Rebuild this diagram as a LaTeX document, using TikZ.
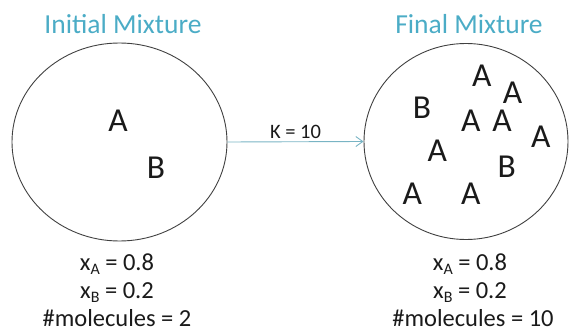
\documentclass[tikz,border=0pt]{standalone}
\usepackage{fontspec}
\setmainfont{Carlito}
\usetikzlibrary{shapes.geometric,arrows.meta}
\definecolor{teal1}{HTML}{4BACC6}
\definecolor{arrowc}{HTML}{79B4C4}
\definecolor{ink}{HTML}{1A1A1A}
\definecolor{rim}{HTML}{404040}
\tikzset{
  title/.style={anchor=base, inner sep=0pt, text=teal1, font=\fontsize{27.5}{30}\selectfont},
  letter/.style={inner sep=0pt, text=ink, font=\fontsize{33.5}{36}\selectfont},
  info/.style={anchor=base, inner sep=0pt, text=ink, font=\fontsize{24.5}{28}\selectfont},
  mix/.style={ellipse, draw=rim, line width=0.9pt, inner sep=0pt},
  react/.style={draw=arrowc, line width=0.9pt, -{Straight Barb[length=7pt,width=10pt]}},
}
\newcommand{\sbx}[1]{\raisebox{-4.5pt}{\fontsize{16}{16}\selectfont #1}}
\begin{document}
\begin{tikzpicture}[x=1pt,y=-1pt]
\useasboundingbox (0,0) rectangle (570,331);
% titles
\node[title] (t1) at (123,34) {Initial Mixture};
\node[title] (t2) at (469,34) {Final Mixture};
% ellipses
\node[mix, minimum width=215pt, minimum height=198pt] (L) at (119.5,142) {};
\node[mix, minimum width=204pt, minimum height=196pt] (R) at (466,141.5) {};
% reaction arrow
\draw[react] (L.east) -- node[above=3pt, inner sep=0pt, text=ink, font=\fontsize{20.5}{22}\selectfont] (k) {K = 10} (R.west);
% left letters
\node[letter] (la) at (118,121) {A};
\node[letter] (lb) at (156,167.5) {B};
% right letters
\node[letter] (r1) at (481.7,75.5) {A};
\node[letter] (r2) at (512.5,92.5) {A};
\node[letter] (r3) at (422,108) {B};
\node[letter] (r4) at (470.7,121) {A};
\node[letter] (r5) at (502,121) {A};
\node[letter] (r6) at (540.7,136.7) {A};
\node[letter] (r7) at (437.3,150.7) {A};
\node[letter] (r8) at (506.7,166.7) {B};
\node[letter] (r9) at (412.3,194) {A};
\node[letter] (r10) at (470.7,194) {A};
% info texts
\node[info] (lxa) at (117,270) {x\sbx{A} = 0.8};
\node[info] (lxb) at (117,298) {x\sbx{B} = 0.2};
\node[info] (lm) at (117,326) {\#molecules = 2};
\node[info] (rxa) at (470,270) {x\sbx{A} = 0.8};
\node[info] (rxb) at (470,298) {x\sbx{B} = 0.2};
\node[info] (rm) at (473,326) {\#molecules = 10};
\end{tikzpicture}
\end{document}
